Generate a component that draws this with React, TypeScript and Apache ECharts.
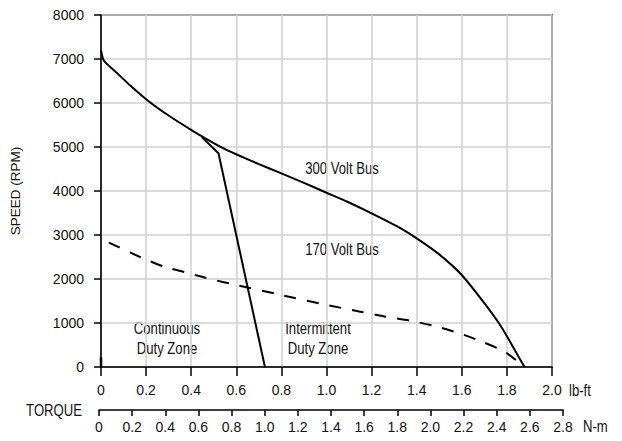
import React, { useEffect, useRef } from "react";
import * as echarts from "echarts";

const speedTicks = ["0", "1000", "2000", "3000", "4000", "5000", "6000", "7000", "8000"];
const lbftTicks = ["0", "0.2", "0.4", "0.6", "0.8", "1.0", "1.2", "1.4", "1.6", "1.8", "2.0"];
const nmTicks = ["0", "0.2", "0.4", "0.6", "0.8", "1.0", "1.2", "1.4", "1.6", "1.8", "2.0", "2.2", "2.4", "2.6", "2.8"];

const bus300Torque = [0, 0.013, 0.072, 0.131, 0.204, 0.278, 0.351, 0.403, 0.455, 0.528, 0.602, 0.7, 0.8, 0.9, 1.0, 1.095, 1.2, 1.316, 1.4, 1.5, 1.6, 1.7, 1.764, 1.8, 1.878];
const bus300Speed = [7200, 6960, 6675, 6390, 6068, 5790, 5545, 5380, 5220, 5010, 4830, 4610, 4400, 4185, 3961, 3750, 3493, 3189, 2925, 2560, 2090, 1450, 1000, 700, 0];

const bus170Torque = [0.035, 0.18, 0.28, 0.39, 0.49, 0.6, 0.8, 1.0, 1.15, 1.26, 1.37, 1.48, 1.59, 1.69, 1.79, 1.878];
const bus170Speed = [2825, 2484, 2280, 2130, 1993, 1864, 1636, 1410, 1258, 1144, 1053, 932, 765, 576, 348, 0];

const intermittentTorque = [0.447, 0.521, 0.727];
const intermittentSpeed = [5225, 4857, 0];

const stubTorque = [0, 0];
const stubSpeed = [0, 220];

const FONT = "'Liberation Sans', Arial, sans-serif";

const zip = (xs: number[], ys: number[]) => xs.map((x, i) => [x, ys[i]]);

export default function App() {
  const ref = useRef<HTMLDivElement>(null);
  useEffect(() => {
    if (!ref.current) return;
    const chart = echarts.init(ref.current, undefined, { renderer: "svg" });
    const txt = { fontFamily: FONT, fontSize: 14, color: "#111" };
    const lineStyle = { color: "#000", width: 2 };
    const label = (text: string, x: number, y: number, align: string, extra: any = {}) => ({
      type: "text", x, y, scaleX: 0.82, scaleY: 1,
      style: { text, font: `16px ${FONT}`, fill: "#111", align, verticalAlign: "middle", textAlign: align, textVerticalAlign: "middle", ...extra },
    });
    chart.setOption({
      animation: false,
      backgroundColor: "#fff",
      grid: [
        { left: 99, top: 15, width: 453, height: 352, show: true, borderColor: "#000", borderWidth: 1.5, backgroundColor: "transparent" },
        { left: 99, top: 400, width: 464, height: 10, show: false },
      ],
      xAxis: [
        {
          type: "value", gridIndex: 0, min: 0, max: 2, interval: 0.2,
          axisLine: { show: true, onZero: false, lineStyle: { color: "#000", width: 1.5 } },
          axisTick: { show: true, length: 9, lineStyle: { color: "#000", width: 1.5 } },
          axisLabel: { ...txt, margin: 16, formatter: (v: number) => lbftTicks[Math.round(v / 0.2)] ?? "" },
          splitLine: { show: true, lineStyle: { color: "#d0d0d0", width: 1.5 } },
        },
        {
          type: "value", gridIndex: 1, min: 0, max: 2.8, interval: 0.2, position: "bottom",
          axisLine: { show: true, onZero: false, lineStyle: { color: "#000", width: 1.5 } },
          axisTick: { show: true, length: 6, lineStyle: { color: "#000", width: 1.5 } },
          axisLabel: { ...txt, margin: 10, formatter: (v: number) => nmTicks[Math.round(v / 0.2)] ?? "" },
          splitLine: { show: false },
        },
      ],
      yAxis: [
        {
          type: "value", gridIndex: 0, min: 0, max: 8000, interval: 1000,
          axisLine: { show: true, onZero: false, lineStyle: { color: "#000", width: 1.5 } },
          axisTick: { show: true, length: 7, lineStyle: { color: "#000", width: 1.5 } },
          axisLabel: { ...txt, margin: 17, formatter: (v: number) => speedTicks[Math.round(v / 1000)] ?? "" },
          splitLine: { show: true, lineStyle: { color: "#d0d0d0", width: 1.5 } },
          name: "SPEED (RPM)", nameLocation: "middle", nameRotate: 90, nameGap: 79,
          nameTextStyle: { fontFamily: FONT, fontSize: 13.5, color: "#111" },
        },
        { type: "value", gridIndex: 1, show: false, min: 0, max: 1 },
      ],
      series: [
        { type: "line", name: "300 Volt Bus", data: zip(bus300Torque, bus300Speed), symbol: "none", smooth: 0.2, lineStyle, z: 5 },
        { type: "line", name: "170 Volt Bus", data: zip(bus170Torque, bus170Speed), symbol: "none", smooth: 0.2, lineStyle: { ...lineStyle, type: [12, 11] }, z: 5 },
        { type: "line", name: "Intermittent", data: zip(intermittentTorque, intermittentSpeed), symbol: "none", lineStyle, z: 5 },
        { type: "line", name: "stub", data: zip(stubTorque, stubSpeed), symbol: "none", lineStyle: { color: "#000", width: 2.5 }, z: 5 },
      ],
      graphic: [
        label("300 Volt Bus", 342, 169, "center"),
        label("170 Volt Bus", 342, 250, "center"),
        label("Continuous\nDuty Zone", 167, 338.5, "center", { lineHeight: 20 }),
        label("Intermittent\nDuty Zone", 318, 338.5, "center", { lineHeight: 20 }),
        label("lb-ft", 569, 391, "left"),
        label("N-m", 583, 427, "left"),
        label("TORQUE", 82, 411, "right"),
      ],
    });
    return () => chart.dispose();
  }, []);
  return <div ref={ref} style={{ position: "fixed", left: 0, top: 0, width: 622, height: 441 }} />;
}
